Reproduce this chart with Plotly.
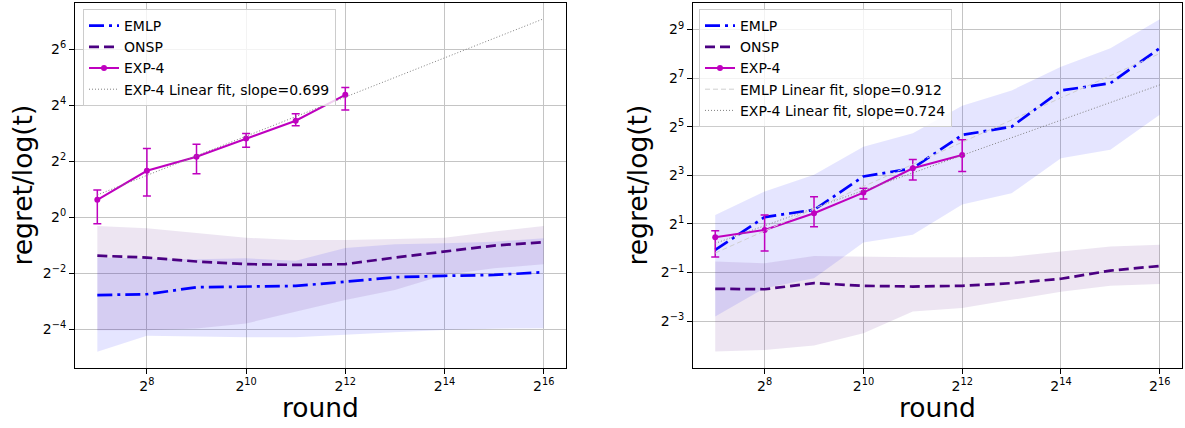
import math
import plotly.graph_objects as go

# ---------------- data ----------------
rounds = [2**k for k in range(7, 17)]          # 2^7 ... 2^16
exp4_rounds = [2**k for k in range(7, 13)]     # 2^7 ... 2^12
fit_rounds = [2**7, 2**16]

# Left panel
emlp_left = [0.146, 0.149, 0.177, 0.179, 0.183, 0.203, 0.227, 0.235, 0.240, 0.257]
emlp_left_hi = [0.369, 0.361, 0.354, 0.363, 0.342, 0.467, 0.514, 0.525, 0.547, 0.595]
emlp_left_lo = [0.0359, 0.0533, 0.0522, 0.0515, 0.0515, 0.0544, 0.0583, 0.0616, 0.0634, 0.0643]
onsp_left = [0.387, 0.369, 0.335, 0.314, 0.308, 0.314, 0.369, 0.426, 0.497, 0.540]
onsp_left_hi = [0.807, 0.763, 0.679, 0.603, 0.570, 0.570, 0.583, 0.603, 0.702, 0.807]
onsp_left_lo = [0.0612, 0.0612, 0.0638, 0.0723, 0.0967, 0.129, 0.165, 0.240, 0.283, 0.312]
exp4_left = [1.54, 3.16, 4.47, 7.01, 10.9, 20.7]
exp4_left_err_plus = [0.43, 2.34, 1.63, 0.93, 2.07, 4.1]
exp4_left_err_minus = [0.69, 1.47, 1.54, 1.35, 1.28, 6.5]
exp4_fit_left = [1.74, 136.0]

# Right panel
emlp_right = [0.953, 2.43, 2.99, 7.73, 9.78, 25.3, 32.0, 89.9, 110.7, 300.0]
emlp_right_hi = [2.58, 5.03, 8.11, 18.1, 26.5, 58.1, 89.9, 177.3, 300.0, 685.0]
emlp_right_lo = [0.143, 0.319, 0.423, 1.173, 1.464, 3.48, 4.79, 13.0, 16.6, 44.9]
onsp_right = [0.314, 0.310, 0.369, 0.342, 0.335, 0.342, 0.369, 0.418, 0.528, 0.603]
onsp_right_hi = [0.683, 0.651, 0.801, 0.785, 0.774, 0.774, 0.785, 0.908, 1.050, 1.102]
onsp_right_lo = [0.0526, 0.0548, 0.0625, 0.0884, 0.164, 0.181, 0.229, 0.289, 0.342, 0.359]
exp4_right = [1.366, 1.682, 2.71, 4.89, 9.78, 14.3]
exp4_right_err_plus = [0.28, 0.90, 1.64, 0.65, 2.8, 7.7]
exp4_right_err_minus = [0.59, 0.76, 0.86, 0.83, 2.77, 5.4]
emlp_fit_right = [0.871, 258.0]
exp4_fit_right = [1.149, 105.4]

x_ticks_exp = [8, 10, 12, 14, 16]
y_ticks_exp_left = [-4, -2, 0, 2, 4, 6]
y_ticks_exp_right = [-3, -1, 1, 3, 5, 7, 9]

# ---------------- styles ----------------
W, H = 1185, 428
L2 = math.log10(2)
EMLP_C = "#0000ff"
ONSP_C = "#4b0082"
EXP4_C = "#bf00bf"
EMLP_FILL = "rgba(0,0,255,0.1)"
ONSP_FILL = "rgba(75,0,130,0.1)"
FONT = "DejaVu Sans"

fig = go.Figure()


def band(x, lo, hi, color, xa, ya):
    fig.add_trace(go.Scatter(
        x=list(x) + list(x)[::-1], y=list(hi) + list(lo)[::-1],
        fill="toself", fillcolor=color, line=dict(width=0),
        mode="lines", hoverinfo="skip", showlegend=False, xaxis=xa, yaxis=ya))


def panel(xa, ya, leg, emlp, emlp_lo, emlp_hi, onsp, onsp_lo, onsp_hi,
          exp4, ep, em, fits):
    band(rounds, emlp_lo, emlp_hi, EMLP_FILL, xa, ya)
    band(rounds, onsp_lo, onsp_hi, ONSP_FILL, xa, ya)
    fig.add_trace(go.Scatter(
        x=rounds, y=emlp, mode="lines", name="EMLP",
        line=dict(color=EMLP_C, width=2.7, dash="15px,5px,3px,5px"),
        xaxis=xa, yaxis=ya, legend=leg))
    fig.add_trace(go.Scatter(
        x=rounds, y=onsp, mode="lines", name="ONSP",
        line=dict(color=ONSP_C, width=2.7, dash="10px,5px"),
        xaxis=xa, yaxis=ya, legend=leg))
    fig.add_trace(go.Scatter(
        x=exp4_rounds, y=exp4, mode="lines+markers", name="EXP-4",
        line=dict(color=EXP4_C, width=2), marker=dict(color=EXP4_C, size=6),
        error_y=dict(type="data", symmetric=False, array=ep, arrayminus=em,
                     color=EXP4_C, thickness=1.5, width=4),
        xaxis=xa, yaxis=ya, legend=leg))
    for name, vals, color, dash in fits:
        fig.add_trace(go.Scatter(
            x=fit_rounds, y=vals, mode="lines", name=name,
            line=dict(color=color, width=1, dash=dash),
            xaxis=xa, yaxis=ya, legend=leg))


panel("x", "y", "legend", emlp_left, emlp_left_lo, emlp_left_hi,
      onsp_left, onsp_left_lo, onsp_left_hi,
      exp4_left, exp4_left_err_plus, exp4_left_err_minus,
      [("EXP-4 Linear fit, slope=0.699", exp4_fit_left, "#808080", "1px,2px")])
panel("x2", "y2", "legend2", emlp_right, emlp_right_lo, emlp_right_hi,
      onsp_right, onsp_right_lo, onsp_right_hi,
      exp4_right, exp4_right_err_plus, exp4_right_err_minus,
      [("EMLP Linear fit, slope=0.912", emlp_fit_right, "#cfcfcf", "5px,3px"),
       ("EXP-4 Linear fit, slope=0.724", exp4_fit_right, "#808080", "1px,2px")])


def sup(k):
    s = str(k).replace("-", "\u2212")
    return f"2<sup>{s}</sup>"


common = dict(type="log", showgrid=True, gridcolor="#c4c4c4", gridwidth=1,
              ticks="outside", ticklen=5, tickcolor="#000", tickwidth=1,
              showline=True, mirror=True, linecolor="#000", linewidth=1,
              zeroline=False, tickfont=dict(size=14, family=FONT, color="#000"))

xr = [6.55 * L2, 16.45 * L2]
ydom = [1 - 368 / H, 1 - 3 / H]
fig.update_layout(
    xaxis=dict(domain=[75 / W, 566 / W], anchor="y", range=xr,
               tickvals=[2**k for k in x_ticks_exp],
               ticktext=[sup(k) for k in x_ticks_exp], **common),
    yaxis=dict(domain=ydom, anchor="x", range=[-5.38 * L2, 7.65 * L2],
               tickvals=[2**k for k in y_ticks_exp_left],
               ticktext=[sup(k) for k in y_ticks_exp_left], **common),
    xaxis2=dict(domain=[693 / W, 1182 / W], anchor="y2", range=xr,
                tickvals=[2**k for k in x_ticks_exp],
                ticktext=[sup(k) for k in x_ticks_exp], **common),
    yaxis2=dict(domain=ydom, anchor="x2", range=[-4.93 * L2, 10.09 * L2],
                tickvals=[2**k for k in y_ticks_exp_right],
                ticktext=[sup(k) for k in y_ticks_exp_right], **common),
)

legend_common = dict(xanchor="left", yanchor="top", y=1 - 9 / H,
                     bgcolor="rgba(255,255,255,0.8)", bordercolor="#cccccc",
                     borderwidth=1, font=dict(size=14, family=FONT, color="#000"),
                     traceorder="normal")
fig.update_layout(
    legend=dict(x=83 / W, **legend_common),
    legend2=dict(x=699 / W, **legend_common),
)

ann = []
for xc in [22, 637]:
    ann.append(dict(text="regret/log(t)", x=xc / W, y=1 - 185.5 / H, xref="paper",
                    yref="paper", showarrow=False, textangle=-90,
                    xanchor="center", yanchor="middle",
                    font=dict(size=26.5, family=FONT, color="#000")))
for xc in [320.5, 937.5]:
    ann.append(dict(text="round", x=xc / W, y=1 - 407 / H, xref="paper",
                    yref="paper", showarrow=False, xanchor="center",
                    yanchor="middle", font=dict(size=26.5, family=FONT, color="#000")))

fig.update_layout(
    annotations=ann, width=W, height=H, margin=dict(l=0, r=0, t=0, b=0),
    paper_bgcolor="white", plot_bgcolor="white",
    font=dict(family=FONT, color="#000"),
)

fig.write_html("out.html")
